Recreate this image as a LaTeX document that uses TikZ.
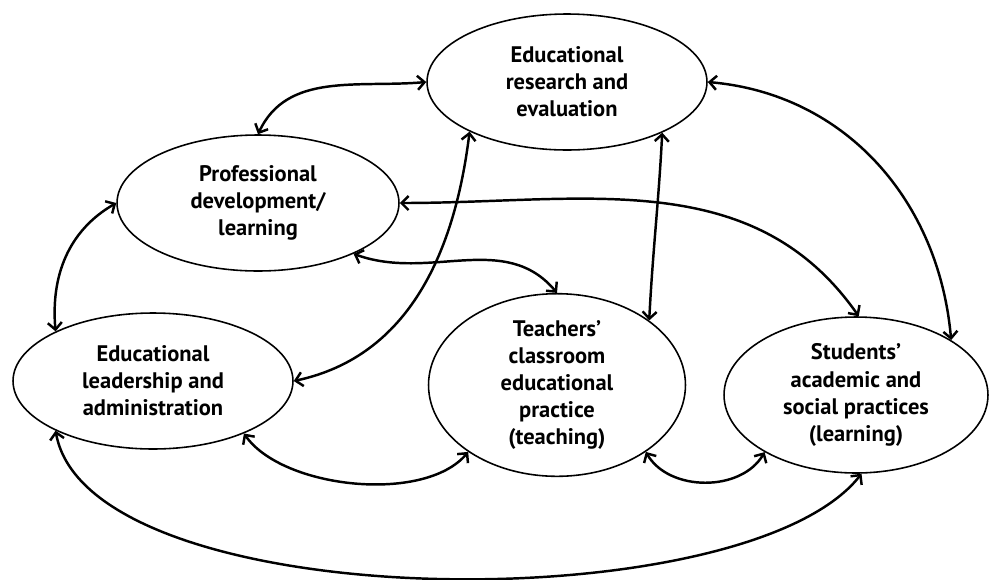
\documentclass[tikz,border=0pt]{standalone}
\usepackage{fontspec}
\setmainfont{PT Sans}
\usetikzlibrary{shapes.geometric,arrows.meta}

\tikzset{
    area/.style={ellipse, draw, line width=0.9pt, inner sep=0pt, align=center,
        font=\bfseries\fontsize{12.8}{15.4}\selectfont},
    link/.style={{Straight Barb[length=4pt,width=8pt]}-{Straight Barb[length=4pt,width=8pt]},
        line width=1.4pt}
}

\begin{document}
\begin{tikzpicture}[x=0.02cm, y=-0.02cm]
    \useasboundingbox (0,0) rectangle (991,579);
%%   kw   (name)   (x, y)   {text}
    \node[area, minimum width=5.6cm, minimum height=2.72cm] (res) at (567, 82)
        {Educational\\research and\\evaluation};
    \node[area, minimum width=5.64cm, minimum height=2.72cm] (pro) at (258, 203)
        {Professional\\development/\\learning};
    \node[area, minimum width=5.6cm, minimum height=2.72cm] (lead) at (153, 381)
        {Educational\\leadership and\\administration};
    \node[area, minimum width=5.14cm, minimum height=3.52cm] (teach) at (557, 385)
        {Teachers’\\classroom\\educational\\practice\\(teaching)};
    \node[area, minimum width=5.28cm, minimum height=3.12cm] (stud) at (856, 395)
        {Students’\\academic and\\social practices\\(learning)};

    \draw[link] (pro.90) to[out=65, in=185] (res.180);
    \draw[link] (res.0) to[out=-5, in=95] (stud.30);
    \draw[link] (res.-28) to[out=-93, in=87] (teach.35);
    \draw[link] (res.-153) to[out=-97, in=12] (lead.0);
    \draw[link] (pro.0) to[out=0, in=125] (stud.88);
    \draw[link] (pro.-28) to[out=-20, in=130] (teach.90);
    \draw[link] (pro.180) to[out=210, in=95] (lead.153);
    \draw[link] (lead.-30) to[out=-55, in=-130, looseness=0.77] (teach.-143);
    \draw[link] (teach.-37) to[out=-60, in=-120] (stud.-148);
    \draw[link] (lead.-153) to[out=-80, in=-128, looseness=0.6] (stud.-86);
\end{tikzpicture}
\end{document}
